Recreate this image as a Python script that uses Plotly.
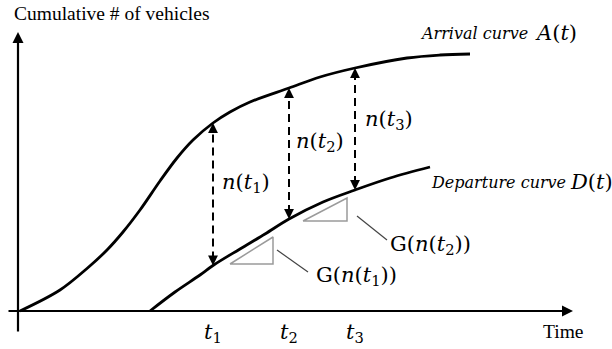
import numpy as np
import plotly.graph_objects as go

# Cumulative arrival curve A(t)
arrival_t = [0.2, 4.2, 6.9, 8.9, 10.5, 12.2, 14.2, 15.9, 17.5, 19.5, 21.2, 23.2,
             27.1, 30.2, 33.7, 38.9, 42.2, 45.2]
arrival_n = [0.0, 2.1, 4.25, 6.1, 7.9, 10.1, 13.0, 15.3, 17.1, 18.8, 19.9, 20.9,
             22.3, 23.4, 24.3, 25.3, 25.6, 25.7]

# Cumulative departure curve D(t)
departure_t = [13.2, 15.7, 18.2, 19.5, 22.2, 24.7, 27.1, 30.5, 33.7, 37.2, 41.2]
departure_n = [0.0, 1.9, 3.6, 4.55, 6.2, 7.7, 9.2, 10.9, 12.1, 13.3, 14.4]

# Sample instants where the queue length n(t) is shown
t_marks = [19.5, 27.1, 33.7]
t_labels = ["<i>t</i><sub>1</sub>", "<i>t</i><sub>2</sub>", "<i>t</i><sub>3</sub>"]
n_labels = ["<i>n</i>(<i>t</i><sub>1</sub>)", "<i>n</i>(<i>t</i><sub>2</sub>)",
            "<i>n</i>(<i>t</i><sub>3</sub>)"]

# Slope triangles on the departure curve: (x_left, x_right, y_bottom, y_top)
slope_tris = [(21.2, 25.5, 4.7, 7.4), (28.5, 32.9, 9.0, 11.3)]
slope_labels = ["G(<i>n</i>(<i>t</i><sub>1</sub>))", "G(<i>n</i>(<i>t</i><sub>2</sub>))"]

X_RANGE = [-1.8, 59.4]
Y_RANGE = [-3.8, 31.1]

MATH_FONT = dict(family="DejaVu Serif, Liberation Serif, serif", size=21, color="black")
NAME_FONT = dict(family="DejaVu Serif, Liberation Serif, serif", size=16, color="black")
TEXT_FONT = dict(family="Liberation Serif, Times New Roman, serif", size=19.5, color="black")

fig = go.Figure()

fig.add_trace(go.Scatter(x=arrival_t, y=arrival_n, mode="lines",
                         line=dict(color="black", width=2.8, shape="spline", smoothing=1.0),
                         hoverinfo="skip"))
fig.add_trace(go.Scatter(x=departure_t, y=departure_n, mode="lines",
                         line=dict(color="black", width=2.8, shape="spline", smoothing=1.0),
                         hoverinfo="skip"))

# slope triangles
for (x0, x1, y0, y1) in slope_tris:
    fig.add_trace(go.Scatter(x=[x0, x1, x1, x0], y=[y0, y0, y1, y0], mode="lines",
                             line=dict(color="#9a9a9a", width=1.5), hoverinfo="skip"))

# leader lines from triangles to their labels
leaders = [((25.9, 6.1), (29.0, 3.9)), ((33.9, 9.5), (36.9, 7.1))]
for (p0, p1) in leaders:
    fig.add_trace(go.Scatter(x=[p0[0], p1[0]], y=[p0[1], p1[1]], mode="lines",
                             line=dict(color="#444444", width=1.2), hoverinfo="skip"))

shapes = []
annotations = []

# axes with arrow tips
annotations.append(dict(x=55.5, y=0, ax=-1.1, ay=0, xref="x", yref="y", axref="x", ayref="y",
                        showarrow=True, arrowhead=2, arrowsize=1, arrowwidth=2.2,
                        arrowcolor="black", text=""))
annotations.append(dict(x=0, y=27.9, ax=0, ay=-2.2, xref="x", yref="y", axref="x", ayref="y",
                        showarrow=True, arrowhead=2, arrowsize=1, arrowwidth=2.2,
                        arrowcolor="black", text=""))

# dashed double arrows between the curves
for t in t_marks:
    top = float(np.interp(t, arrival_t, arrival_n))
    bot = float(np.interp(t, departure_t, departure_n))
    shapes.append(dict(type="line", x0=t, x1=t, y0=bot + 0.6, y1=top - 0.6,
                       xref="x", yref="y",
                       line=dict(color="black", width=2, dash="8px,5px")))
    annotations.append(dict(x=t, y=top, ax=0, ay=9, xref="x", yref="y",
                            showarrow=True, arrowhead=2, arrowsize=1.1, arrowwidth=1.8,
                            arrowcolor="black", text=""))
    annotations.append(dict(x=t, y=bot, ax=0, ay=-9, xref="x", yref="y",
                            showarrow=True, arrowhead=2, arrowsize=1.1, arrowwidth=1.8,
                            arrowcolor="black", text=""))

# n(t) labels
for (x, y), lab in zip([(22.8, 12.8), (30.2, 16.9), (37.1, 19.1)], n_labels):
    annotations.append(dict(x=x, y=y, xref="x", yref="y", text=lab, showarrow=False,
                            font=MATH_FONT, xanchor="center", yanchor="middle"))

# t tick labels
for t, lab in zip(t_marks, t_labels):
    annotations.append(dict(x=t, y=-2.2, xref="x", yref="y", text=lab, showarrow=False,
                            font=MATH_FONT, xanchor="center", yanchor="middle"))

# slope labels
for (x, y), lab in zip([(33.8, 3.5), (41.2, 6.6)], slope_labels):
    annotations.append(dict(x=x, y=y, xref="x", yref="y", text=lab, showarrow=False,
                            font=MATH_FONT, xanchor="center", yanchor="middle"))

# curve names
annotations.append(dict(x=40.0, y=27.8, xref="x", yref="y", text="<i>Arrival curve</i>",
                        showarrow=False, font=NAME_FONT, xanchor="left", yanchor="middle"))
annotations.append(dict(x=51.5, y=27.8, xref="x", yref="y", text="<i>A</i>(<i>t</i>)",
                        showarrow=False, font=MATH_FONT, xanchor="left", yanchor="middle"))
annotations.append(dict(x=41.1, y=12.9, xref="x", yref="y", text="<i>Departure curve</i>",
                        showarrow=False, font=NAME_FONT, xanchor="left", yanchor="middle"))
annotations.append(dict(x=55.0, y=12.9, xref="x", yref="y", text="<i>D</i>(<i>t</i>)",
                        showarrow=False, font=MATH_FONT, xanchor="left", yanchor="middle"))

# axis titles
annotations.append(dict(x=-0.6, y=29.8, xref="x", yref="y", text="Cumulative # of vehicles",
                        showarrow=False, font=TEXT_FONT, xanchor="left", yanchor="middle"))
annotations.append(dict(x=54.5, y=-2.0, xref="x", yref="y", text="Time",
                        showarrow=False, font=TEXT_FONT, xanchor="center", yanchor="middle"))

fig.update_layout(
    width=612, height=349,
    margin=dict(l=0, r=0, t=0, b=0),
    paper_bgcolor="white", plot_bgcolor="white",
    showlegend=False,
    xaxis=dict(range=X_RANGE, visible=False, fixedrange=True),
    yaxis=dict(range=Y_RANGE, visible=False, fixedrange=True),
    shapes=shapes,
    annotations=annotations,
)

fig.write_html("out.html")
